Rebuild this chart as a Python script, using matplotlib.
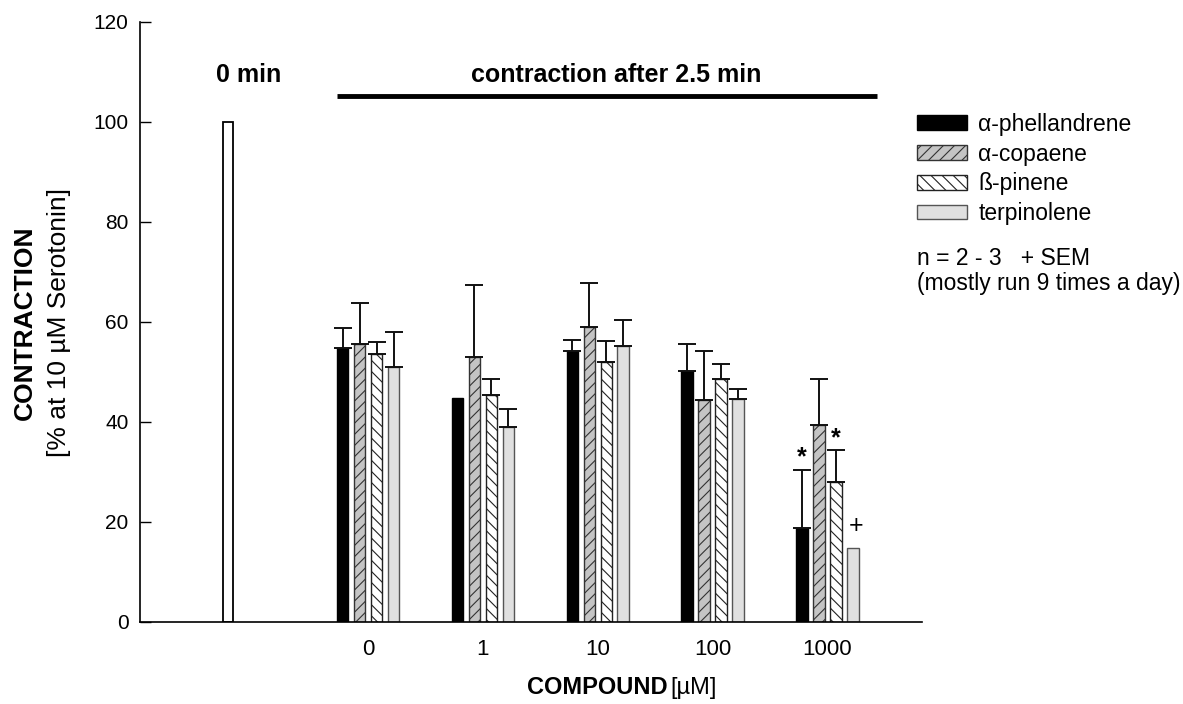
import numpy as np
import matplotlib.pyplot as plt

plt.rcParams['font.family'] = ['Liberation Sans', 'DejaVu Sans']
plt.rcParams['hatch.linewidth'] = 0.8

# data
doses = ['0', '1', '10', '100', '1000']
compounds = ['α-phellandrene', 'α-copaene', 'ß-pinene', 'terpinolene']
control = 100  # 0 min

means = {
    'α-phellandrene': [54.8, 44.7, 54.1, 50.2, 18.7],
    'α-copaene':      [55.5, 52.9, 58.9, 44.3, 39.4],
    'ß-pinene':       [53.5, 45.3, 52.0, 48.5, 28.0],
    'terpinolene':    [50.9, 38.9, 55.1, 44.6, 14.7],
}
sem = {
    'α-phellandrene': [3.9, 0.0, 2.3, 5.3, 11.7],
    'α-copaene':      [8.3, 14.4, 8.9, 9.8, 9.2],
    'ß-pinene':       [2.4, 3.2, 4.1, 3.0, 6.4],
    'terpinolene':    [7.1, 3.6, 5.3, 2.0, 0.0],
}

styles = {
    'α-phellandrene': dict(color='black', edgecolor='black', hatch=None),
    'α-copaene':      dict(color='#c4c4c4', edgecolor='#333333', hatch='///'),
    'ß-pinene':       dict(color='white', edgecolor='#222222', hatch='\\\\\\'),
    'terpinolene':    dict(color='#e0e0e0', edgecolor='#555555', hatch=None),
}

fig = plt.figure(figsize=(11.83, 7.04), dpi=100)
ax = fig.add_axes([0.118, 0.1165, 0.661, 0.8525])

x = np.arange(len(doses))
w = 0.1
step = 0.148

# 0 min reference bar
ax.bar(-1.22, control, width=0.09, color='white', edgecolor='black', linewidth=1.3)

for i, name in enumerate(compounds):
    pos = x + (i - 1.5) * step
    st = styles[name]
    ax.bar(pos, means[name], width=w, color=st['color'], edgecolor=st['edgecolor'],
           hatch=st['hatch'], linewidth=1.0, label=name)
    m = np.array(means[name])
    e = np.array(sem[name])
    keep = e > 0
    ax.errorbar(pos[keep], m[keep], yerr=[np.zeros(keep.sum()), e[keep]],
                fmt='none', ecolor='#111111', elinewidth=1.4, capsize=6.5, capthick=1.4)

# significance marks at 1000 uM
ax.text(x[4] - 1.5 * step, means['α-phellandrene'][4] + sem['α-phellandrene'][4] + 2.6, '*',
        ha='center', va='center', fontsize=18, fontweight='bold')
ax.text(x[4] + 0.5 * step, means['ß-pinene'][4] + sem['ß-pinene'][4] + 2.4, '*',
        ha='center', va='center', fontsize=18, fontweight='bold')
ax.text(x[4] + 1.5 * step + 0.03, means['terpinolene'][4] + 4.4, '+',
        ha='center', va='center', fontsize=18)

# header texts and bar
ax.text(-1.04, 109.4, '0 min', ha='center', va='center', fontsize=18, fontweight='bold')
ax.text(2.16, 109.4, 'contraction after 2.5 min', ha='center', va='center',
        fontsize=18, fontweight='bold')
ax.plot([-0.275, 4.43], [105.2, 105.2], color='black', lw=3.5, solid_capstyle='butt',
        clip_on=False)

ax.set_xlim(-1.99, 4.82)
ax.set_ylim(0, 120)
ax.set_yticks(range(0, 121, 20))
ax.set_xticks(x)
ax.set_xticklabels(doses)
ax.tick_params(axis='y', direction='in', length=8, width=1, labelsize=15, pad=8)
ax.tick_params(axis='x', length=0, labelsize=16, pad=12)
for s in ['top', 'right']:
    ax.spines[s].set_visible(False)
ax.spines['left'].set_linewidth(1.2)
ax.spines['bottom'].set_linewidth(1.2)

fig.text(0.021, 0.542, 'CONTRACTION', rotation=90, ha='center', va='center',
         fontsize=19, fontweight='bold')
fig.text(0.050, 0.542, '[% at 10 µM Serotonin]', rotation=90, ha='center', va='center',
         fontsize=19)
fig.text(0.564, 0.023, 'COMPOUND', ha='right', va='center', fontsize=17, fontweight='bold')
fig.text(0.567, 0.023, '[µM]', ha='left', va='center', fontsize=17)

leg = fig.legend(loc='upper left', bbox_to_anchor=(0.767, 0.853), frameon=False,
                 fontsize=16.5, handlelength=2.2, handleheight=0.6, labelspacing=0.3,
                 handletextpad=0.5, borderaxespad=0)

fig.text(0.775, 0.633, 'n = 2 - 3   + SEM', ha='left', va='center', fontsize=16.5)
fig.text(0.775, 0.597, '(mostly run 9 times a day)', ha='left', va='center', fontsize=16.5)

fig.savefig('out.png', dpi=100)
